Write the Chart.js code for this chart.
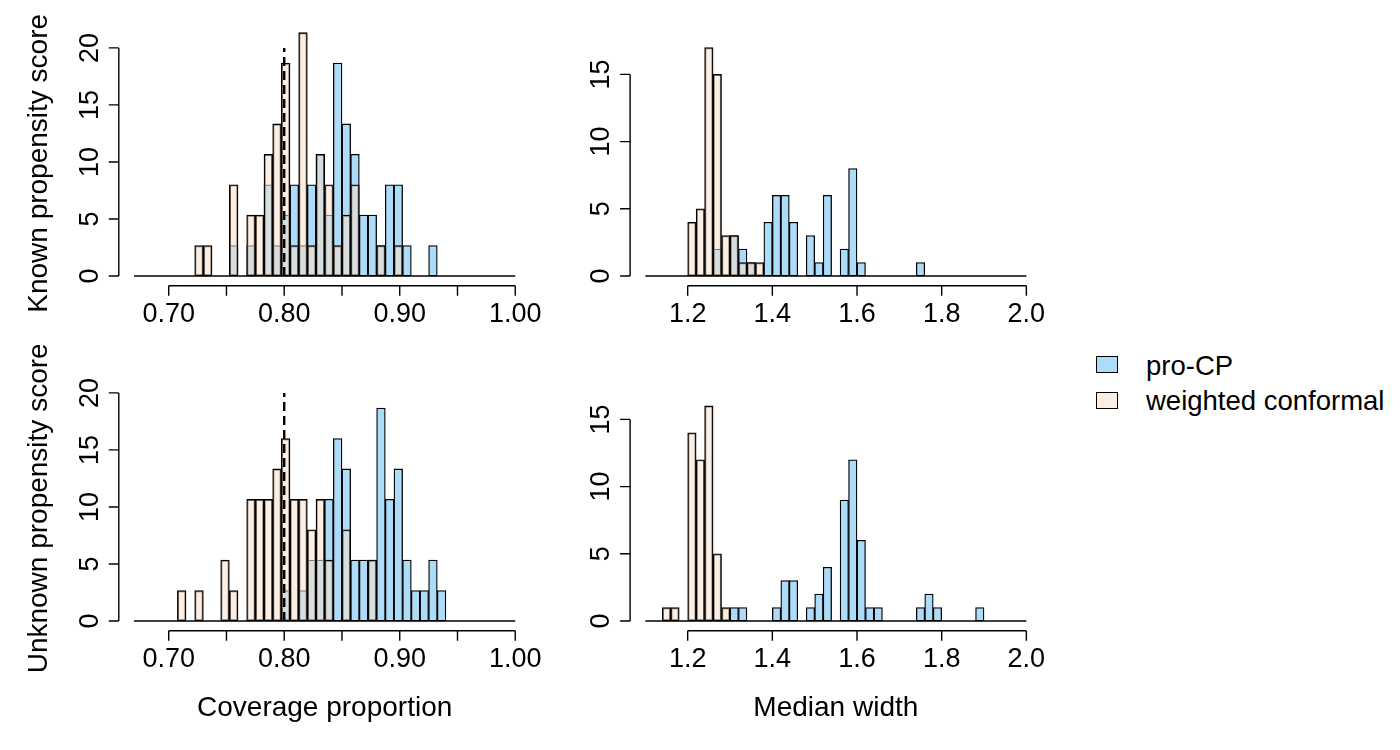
<!DOCTYPE html>
<html>
<head>
<meta charset="utf-8">
<script src="https://cdn.jsdelivr.net/npm/chart.js@4.4.1/dist/chart.umd.min.js"></script>
<style>
  body { margin: 0; background: #fff; width: 1400px; height: 750px; position: relative; overflow: hidden;
         font-family: "Liberation Sans", Arial, sans-serif; }
  canvas { position: absolute; }
  .box { position: absolute; width: 22px; height: 17px; box-sizing: border-box; border: 1.3px solid #000; }
  .lab { position: absolute; font-size: 27.5px; line-height: 1; white-space: nowrap; color: #000; }
</style>
</head>
<body>
<canvas id="knownCoverage" width="580" height="345" style="left:0;top:0"></canvas>
<canvas id="knownWidth" width="470" height="345" style="left:580px;top:0"></canvas>
<canvas id="unknownCoverage" width="580" height="405" style="left:0;top:345px"></canvas>
<canvas id="unknownWidth" width="470" height="405" style="left:580px;top:345px"></canvas>

<div class="box" style="left:1096px;top:356px;background:rgb(173,220,248)"></div>
<div class="lab" style="left:1146px;top:351.5px">pro-CP</div>
<div class="box" style="left:1096px;top:392px;background:rgb(253,238,227)"></div>
<div class="lab" style="left:1146px;top:387px">weighted conformal</div>

<script>
// histogram bins (left edges), 50 simulation runs per method
const coverageBins = [0.7075, 0.715, 0.7225, 0.73, 0.7375, 0.745, 0.7525, 0.76, 0.7675, 0.775, 0.7825,
  0.79, 0.7975, 0.805, 0.8125, 0.82, 0.8275, 0.835, 0.8425, 0.85, 0.8575, 0.865, 0.8725, 0.88,
  0.8875, 0.895, 0.9025, 0.91, 0.9175, 0.925, 0.9325];
const widthBins = [1.14, 1.16, 1.18, 1.20, 1.22, 1.24, 1.26, 1.28, 1.30, 1.32, 1.34, 1.36, 1.38, 1.40,
  1.42, 1.44, 1.46, 1.48, 1.50, 1.52, 1.54, 1.56, 1.58, 1.60, 1.62, 1.64, 1.66, 1.68, 1.70, 1.72,
  1.74, 1.76, 1.78, 1.80, 1.82, 1.84, 1.86, 1.88];

// counts per bin
const knownCoverageProCP   = [0,0,0,0,0,0,1,0,1,0,3,1,2,3,1,3,4,2,7,5,4,2,2,1,3,3,1,0,0,1,0];
const knownCoverageWeighted = [0,0,1,1,0,0,3,0,2,2,4,5,7,1,8,1,4,3,1,2,3,0,0,1,0,1,0,0,0,0,0];
const unknownCoverageProCP   = [0,0,0,0,0,0,0,0,0,0,0,0,1,0,1,2,2,4,6,5,2,2,2,7,4,5,2,1,1,2,1];
const unknownCoverageWeighted = [1,0,1,0,0,2,1,0,4,4,4,5,6,4,4,3,4,2,0,3,0,0,2,0,0,0,0,0,0,0,0];

const knownWidthProCP   = [0,0,0,0,0,0,2,0,3,2,1,0,4,6,6,4,0,3,1,6,0,2,8,1,0,0,0,0,0,0,1,0,0,0,0,0,0,0];
const knownWidthWeighted = [0,0,0,4,5,17,15,3,3,1,1,1,0,0,0,0,0,0,0,0,0,0,0,0,0,0,0,0,0,0,0,0,0,0,0,0,0,0];
const unknownWidthProCP   = [0,0,0,0,0,0,0,0,1,1,0,0,0,1,3,3,0,1,2,4,0,9,12,6,1,1,0,0,0,0,1,2,1,0,0,0,0,1];
const unknownWidthWeighted = [1,1,0,14,12,16,5,1,0,0,0,0,0,0,0,0,0,0,0,0,0,0,0,0,0,0,0,0,0,0,0,0,0,0,0,0,0,0];

// axes
const coverageTicks = [0.70, 0.75, 0.80, 0.85, 0.90, 0.95, 1.00];
const widthTicks = [1.2, 1.4, 1.6, 1.8, 2.0];
const coverageYTicks = [0, 5, 10, 15, 20];
const widthYTicks = [0, 5, 10, 15];
const coverageLimits = [0.67, 1.00];
const widthLimits = [1.1, 2.0];
const coverageYLimit = 21.33;
const widthYLimit = 18.1;
const targetCoverage = 0.80;
const targetLineTop = 20;

const blue = 'rgb(173,220,248)';
const peach = 'rgba(250,224,204,0.55)';

function density(bins, counts) {
  const w = bins[1] - bins[0];
  const n = counts.reduce((a, b) => a + b, 0);
  return bins.map((b, i) => ({x: b + w / 2, y: counts[i] / (n * w)}))
             .filter((p, i) => counts[i] > 0);
}

// R style axes drawn from the chart's own scales
const rAxes = {
  id: 'rAxes',
  afterDraw(chart, args, opt) {
    const {ctx, chartArea: a, scales: {x, y}} = chart;
    ctx.save();
    ctx.strokeStyle = '#000';
    ctx.fillStyle = '#000';
    ctx.lineWidth = 1.4;
    ctx.font = '27px "Liberation Sans", Arial, sans-serif';

    const xs = opt.xTicks.map(v => x.getPixelForValue(v));
    ctx.beginPath();
    ctx.moveTo(xs[0], a.bottom);
    ctx.lineTo(xs[xs.length - 1], a.bottom);
    xs.forEach(p => { ctx.moveTo(p, a.bottom); ctx.lineTo(p, a.bottom + 10); });
    ctx.stroke();
    ctx.textAlign = 'center';
    ctx.textBaseline = 'alphabetic';
    opt.xTicks.forEach((v, i) => {
      if (i % opt.xLabelEvery === 0) ctx.fillText(v.toFixed(opt.xDigits), xs[i], a.bottom + 36);
    });

    const ys = opt.yTicks.map(v => y.getPixelForValue(v));
    ctx.beginPath();
    ctx.moveTo(a.left, ys[0]);
    ctx.lineTo(a.left, ys[ys.length - 1]);
    ys.forEach(p => { ctx.moveTo(a.left, p); ctx.lineTo(a.left - 10, p); });
    ctx.stroke();
    opt.yTicks.forEach((v, i) => {
      ctx.save();
      ctx.translate(a.left - 21, ys[i]);
      ctx.rotate(-Math.PI / 2);
      ctx.fillText(String(v), 0, 0);
      ctx.restore();
    });

    ctx.font = '28px "Liberation Sans", Arial, sans-serif';
    if (opt.yTitle) {
      ctx.save();
      ctx.translate(a.left - 72, (a.top + a.bottom) / 2 + 9);
      ctx.rotate(-Math.PI / 2);
      ctx.fillText(opt.yTitle, 0, 0);
      ctx.restore();
    }
    if (opt.xTitle) ctx.fillText(opt.xTitle, (a.left + a.right) / 2, a.bottom + 85);
    ctx.restore();
  }
};

function makePanel(id, bins, proCP, weighted, o) {
  const canvas = document.getElementById(id);
  const span = o.limits[1] - o.limits[0];
  const datasets = [
    {
      type: 'line',
      data: [{x: o.limits[0], y: 0}, {x: o.limits[1], y: 0}],
      borderColor: '#000', borderWidth: 1.6, pointRadius: 0, order: 0
    },
    {
      label: 'weighted conformal',
      data: density(bins, weighted),
      backgroundColor: peach, borderColor: '#000', borderWidth: 1.3,
      borderSkipped: false, grouped: false, barPercentage: 1, categoryPercentage: 1, order: 1
    },
    {
      label: 'pro-CP',
      data: density(bins, proCP),
      backgroundColor: blue, borderColor: '#000', borderWidth: 1.3,
      borderSkipped: false, grouped: false, barPercentage: 1, categoryPercentage: 1, order: 2
    }
  ];
  if (o.target) {
    datasets.unshift({
      type: 'line',
      data: [{x: targetCoverage, y: 0}, {x: targetCoverage, y: targetLineTop}],
      borderColor: '#000', borderWidth: 2.4, borderDash: [9, 5], pointRadius: 0, order: 0
    });
  }
  new Chart(canvas, {
    type: 'bar',
    data: {datasets: datasets},
    options: {
      responsive: false,
      animation: false,
      layout: {padding: o.padding},
      plugins: {
        legend: {display: false},
        tooltip: {enabled: false},
        rAxes: o.axes
      },
      scales: {
        x: {
          type: 'linear', display: false, offset: false,
          min: o.limits[0] - 0.04 * span, max: o.limits[1] + 0.04 * span,
          ticks: {stepSize: 0.1}
        },
        y: {
          type: 'linear', display: false,
          min: -0.04 * o.yLimit, max: 1.04 * o.yLimit
        }
      }
    },
    plugins: [rAxes]
  });
}

const leftPad = (bottom) => ({left: 118.8, right: 49.5, top: 23, bottom: bottom});
const rightPad = (bottom) => ({left: 50.1, right: 8.4, top: 23, bottom: bottom});

makePanel('knownCoverage', coverageBins, knownCoverageProCP, knownCoverageWeighted, {
  limits: coverageLimits, yLimit: coverageYLimit, target: true, padding: leftPad(59.3),
  axes: {xTicks: coverageTicks, xLabelEvery: 2, xDigits: 2, yTicks: coverageYTicks,
         yTitle: 'Known propensity score'}
});
makePanel('knownWidth', widthBins, knownWidthProCP, knownWidthWeighted, {
  limits: widthLimits, yLimit: widthYLimit, target: false, padding: rightPad(59.3),
  axes: {xTicks: widthTicks, xLabelEvery: 1, xDigits: 1, yTicks: widthYTicks}
});
makePanel('unknownCoverage', coverageBins, unknownCoverageProCP, unknownCoverageWeighted, {
  limits: coverageLimits, yLimit: coverageYLimit, target: true, padding: leftPad(119.3),
  axes: {xTicks: coverageTicks, xLabelEvery: 2, xDigits: 2, yTicks: coverageYTicks,
         yTitle: 'Unknown propensity score', xTitle: 'Coverage proportion'}
});
makePanel('unknownWidth', widthBins, unknownWidthProCP, unknownWidthWeighted, {
  limits: widthLimits, yLimit: widthYLimit, target: false, padding: rightPad(119.3),
  axes: {xTicks: widthTicks, xLabelEvery: 1, xDigits: 1, yTicks: widthYTicks,
         xTitle: 'Median width'}
});
</script>
</body>
</html>
